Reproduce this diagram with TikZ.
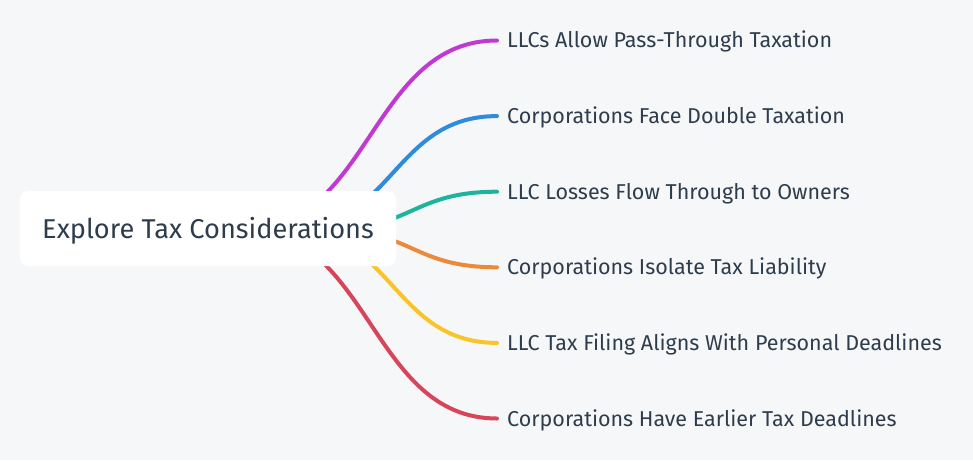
\documentclass[tikz,border=0pt]{standalone}
\usepackage{fontspec}
\setmainfont{Fira Sans}
\definecolor{bg}{HTML}{F6F7F9}
\definecolor{txt}{HTML}{2E3D4D}
\definecolor{cMag}{HTML}{C238D3}
\definecolor{cBlue}{HTML}{2F8BDB}
\definecolor{cTeal}{HTML}{1DB39C}
\definecolor{cOrange}{HTML}{EC8A3B}
\definecolor{cYellow}{HTML}{F8C42A}
\definecolor{cRed}{HTML}{D6455A}
\begin{document}
\begin{tikzpicture}[x=1pt,y=-1pt,
  branch/.style={line width=4pt,line cap=round},
  leaf/.style={anchor=west,inner xsep=10pt,inner ysep=0pt,text height=15pt,text depth=0pt,
    font=\fontsize{21.5}{24}\selectfont,text=txt},
  rootbox/.style={fill=white,rounded corners=8pt,minimum width=376pt,minimum height=75pt,
    inner sep=0pt,text height=20pt,text depth=0pt,font=\fontsize{27.2}{30}\selectfont,text=txt}]
\fill[bg] (0,0) rectangle (973,460);
\useasboundingbox (0,0) rectangle (973,460);
% leaves
\node[leaf] (l1) at (497,40.5) {LLCs Allow Pass-Through Taxation};
\node[leaf] (l2) at (497,116.1) {Corporations Face Double Taxation};
\node[leaf] (l3) at (497,191.7) {LLC Losses Flow Through to Owners};
\node[leaf] (l4) at (497,267.3) {Corporations Isolate Tax Liability};
\node[leaf] (l5) at (497,342.9) {LLC Tax Filing Aligns With Personal Deadlines};
\node[leaf] (l6) at (497,418.5) {Corporations Have Earlier Tax Deadlines};
% hidden starts
\coordinate (s1) at (244,229.5);
\coordinate (s2) at (289,229.5);
\coordinate (s3) at (327,229.5);
% branches
\draw[branch,cMag] (s1) .. controls (370.5,229.5) and (370.5,40.5) .. (l1.west);
\draw[branch,cBlue] (s2) .. controls (393,229.5) and (393,116.1) .. (l2.west);
\draw[branch,cTeal] (s3) .. controls (412,229.5) and (412,191.7) .. (l3.west);
\draw[branch,cOrange] (s3) .. controls (412,229.5) and (412,267.3) .. (l4.west);
\draw[branch,cYellow] (s2) .. controls (393,229.5) and (393,342.9) .. (l5.west);
\draw[branch,cRed] (s1) .. controls (370.5,229.5) and (370.5,418.5) .. (l6.west);
% root
\node[rootbox] (root) at (208,228.5) {Explore Tax Considerations};
\end{tikzpicture}
\end{document}
